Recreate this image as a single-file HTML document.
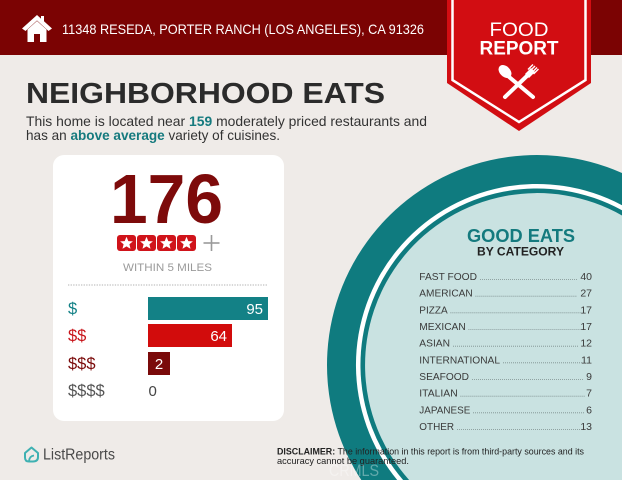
<!DOCTYPE html>
<html><head><meta charset="utf-8"><style>
html,body{margin:0;padding:0;background:#efebe8;width:622px;height:480px;overflow:hidden;}
svg{display:block;position:absolute;left:0;top:0;}
text{font-family:"Liberation Sans",Arial,sans-serif;}
</style></head><body>
<svg width="622" height="480" viewBox="0 0 622 480" xmlns="http://www.w3.org/2000/svg">
<rect x="0" y="0" width="622" height="480" fill="#efebe8"/>
<!-- header -->
<rect x="0" y="0" width="622" height="55" fill="#7b0303"/>
<!-- house icon -->
<path d="M37,15 L22,28.5 L25.5,31 L37,20.5 L48.5,31 L52,28.5 L44,21.2 L44,16 L41,16 L41,18.6 Z" fill="#fff"/>
<path d="M27.5,29.5 L37,21 L46.5,29.5 L46.5,42 L40,42 L40,34 L34,34 L34,42 L27.5,42 Z" fill="#fff"/>
<text x="62" y="34" font-size="14" fill="#fff" textLength="362" lengthAdjust="spacingAndGlyphs">11348 RESEDA, PORTER RANCH (LOS ANGELES), CA 91326</text>
<!-- ribbon -->
<polygon points="447,0 591,0 591,83 519,131 447,83" fill="#d20d12"/>
<polyline points="452.5,0 452.5,80 519,122 585.5,80 585.5,0" fill="none" stroke="#fff" stroke-width="2.5"/>
<text x="519" y="36" font-size="19" fill="#fff" text-anchor="middle" textLength="59" lengthAdjust="spacingAndGlyphs">FOOD</text>
<text x="519" y="54.5" font-size="19" font-weight="bold" fill="#fff" text-anchor="middle" textLength="79" lengthAdjust="spacingAndGlyphs">REPORT</text>
<!-- spoon & fork -->
<g fill="#fff" stroke="#fff">
<line x1="508" y1="76" x2="533" y2="97" stroke-width="4" stroke-linecap="round"/>
<ellipse cx="505" cy="71.5" rx="5.2" ry="7.5" transform="rotate(-45 505 71.5)" stroke="none"/>
<line x1="529" y1="74" x2="505" y2="97" stroke-width="4" stroke-linecap="round"/>
<path d="M525,74 L531,68 L535,72 L529,78 Z" stroke="none"/>
<line x1="528" y1="69.5" x2="533" y2="64.5" stroke-width="1.4"/>
<line x1="530" y1="71" x2="535" y2="66" stroke-width="1.4"/>
<line x1="532" y1="72.5" x2="537" y2="67.5" stroke-width="1.4"/>
<line x1="533.5" y1="74" x2="538.5" y2="69" stroke-width="1.4"/>
</g>
<!-- title -->
<text x="26" y="103" font-size="29" font-weight="bold" fill="#2b2b2b" textLength="359" lengthAdjust="spacingAndGlyphs">NEIGHBORHOOD EATS</text>
<text x="26" y="126" font-size="14" fill="#333" textLength="401" lengthAdjust="spacingAndGlyphs">This home is located near <tspan font-weight="bold" fill="#157a7e">159</tspan> moderately priced restaurants and</text>
<text x="26" y="140" font-size="14" fill="#333" textLength="254" lengthAdjust="spacingAndGlyphs">has an <tspan font-weight="bold" fill="#157a7e">above average</tspan> variety of cuisines.</text>
<!-- circle (clipped to frame geometrically) -->
<path d="M361.29,480 A210,210 0 0 1 622,172.97 L622,480 Z" fill="#0f7b7f"/>
<path d="M397.2,480 A181,181 0 0 1 622,205.2 L622,480 Z" fill="#ffffff"/>
<path d="M403.1,480 A176.5,176.5 0 0 1 622,210.3 L622,480 Z" fill="#0f7b7f"/>
<path d="M409.1,480 A172,172 0 0 1 622,215.5 L622,480 Z" fill="#c9e2e1"/>
<text x="467" y="242" font-size="18" font-weight="bold" fill="#147a7e" textLength="108" lengthAdjust="spacingAndGlyphs">GOOD EATS</text>
<text x="477" y="255.5" font-size="11.5" font-weight="bold" fill="#222" textLength="87" lengthAdjust="spacingAndGlyphs">BY CATEGORY</text>
<g font-size="10.5" fill="#3a3a3a">
<text x="419.3" y="280" textLength="57.7" lengthAdjust="spacingAndGlyphs">FAST FOOD</text>
<text x="592" y="280" text-anchor="end">40</text>
<text x="419.3" y="296.7" textLength="53.4" lengthAdjust="spacingAndGlyphs">AMERICAN</text>
<text x="592" y="296.7" text-anchor="end">27</text>
<text x="419.3" y="313.3" textLength="28.4" lengthAdjust="spacingAndGlyphs">PIZZA</text>
<text x="592" y="313.3" text-anchor="end">17</text>
<text x="419.3" y="330" textLength="46.4" lengthAdjust="spacingAndGlyphs">MEXICAN</text>
<text x="592" y="330" text-anchor="end">17</text>
<text x="419.3" y="346.7" textLength="30.7" lengthAdjust="spacingAndGlyphs">ASIAN</text>
<text x="592" y="346.7" text-anchor="end">12</text>
<text x="419.3" y="363.3" textLength="80.7" lengthAdjust="spacingAndGlyphs">INTERNATIONAL</text>
<text x="592" y="363.3" text-anchor="end">11</text>
<text x="419.3" y="380" textLength="49.7" lengthAdjust="spacingAndGlyphs">SEAFOOD</text>
<text x="592" y="380" text-anchor="end">9</text>
<text x="419.3" y="396.7" textLength="38.4" lengthAdjust="spacingAndGlyphs">ITALIAN</text>
<text x="592" y="396.7" text-anchor="end">7</text>
<text x="419.3" y="413.3" textLength="51" lengthAdjust="spacingAndGlyphs">JAPANESE</text>
<text x="592" y="413.3" text-anchor="end">6</text>
<text x="419.3" y="430" textLength="34.7" lengthAdjust="spacingAndGlyphs">OTHER</text>
<text x="592" y="430" text-anchor="end">13</text>
</g>
<g stroke="#6a7a7a" stroke-width="0.8" stroke-dasharray="0.8 1.2">
<line x1="480" y1="279.5" x2="577" y2="279.5"/>
<line x1="475.5" y1="296.2" x2="577" y2="296.2"/>
<line x1="450.5" y1="312.8" x2="581" y2="312.8"/>
<line x1="468.5" y1="329.5" x2="581" y2="329.5"/>
<line x1="453" y1="346.2" x2="578" y2="346.2"/>
<line x1="503" y1="362.8" x2="583" y2="362.8"/>
<line x1="472" y1="379.5" x2="584" y2="379.5"/>
<line x1="460.5" y1="396.2" x2="585" y2="396.2"/>
<line x1="473" y1="412.8" x2="585" y2="412.8"/>
<line x1="457" y1="429.5" x2="581" y2="429.5"/>
</g>
<!-- card -->
<rect x="53" y="155" width="231" height="266" rx="11" fill="#ffffff"/>
<text x="110" y="223" font-size="70" font-weight="bold" fill="#7d0a0a" textLength="113" lengthAdjust="spacingAndGlyphs">176</text>
<g fill="#d0131a">
<rect x="117" y="235" width="19" height="16" rx="3"/>
<rect x="137" y="235" width="19" height="16" rx="3"/>
<rect x="157" y="235" width="19" height="16" rx="3"/>
<rect x="177" y="235" width="19" height="16" rx="3"/>
</g>
<g fill="#fff">
<polygon points="126.5,236.8 128.3,241.1 132.9,241.4 129.4,244.3 130.5,248.8 126.5,246.4 122.5,248.8 123.6,244.3 120.1,241.4 124.7,241.1"/>
<polygon points="146.5,236.8 148.3,241.1 152.9,241.4 149.4,244.3 150.5,248.8 146.5,246.4 142.5,248.8 143.6,244.3 140.1,241.4 144.7,241.1"/>
<polygon points="166.5,236.8 168.3,241.1 172.9,241.4 169.4,244.3 170.5,248.8 166.5,246.4 162.5,248.8 163.6,244.3 160.1,241.4 164.7,241.1"/>
<polygon points="186.5,236.8 188.3,241.1 192.9,241.4 189.4,244.3 190.5,248.8 186.5,246.4 182.5,248.8 183.6,244.3 180.1,241.4 184.7,241.1"/>
</g>
<line x1="203.5" y1="243" x2="219.5" y2="243" stroke="#9a9a9a" stroke-width="1.6"/>
<line x1="211.5" y1="235" x2="211.5" y2="251" stroke="#9a9a9a" stroke-width="1.6"/>
<text x="123" y="271" font-size="11" fill="#9a9a9a" textLength="89" lengthAdjust="spacingAndGlyphs">WITHIN 5 MILES</text>
<line x1="68" y1="285" x2="268" y2="285" stroke="#b0b0b0" stroke-width="1" stroke-dasharray="1.3 1.3"/>
<!-- bars -->
<rect x="148" y="297" width="120" height="23" fill="#138186"/>
<rect x="148" y="324" width="84" height="23" fill="#d20c0c"/>
<rect x="148" y="352" width="22" height="23" fill="#7a0a0a"/>
<g font-size="16.5">
<text x="68" y="314" fill="#138186">$</text>
<text x="68" y="341" fill="#c8141a">$$</text>
<text x="68" y="369" fill="#7a0a0a">$$$</text>
<text x="68" y="396" fill="#555">$$$$</text>
</g>
<g font-size="15" fill="#fff">
<text x="263" y="314" text-anchor="end">95</text>
<text x="227" y="341" text-anchor="end">64</text>
<text x="159" y="369" text-anchor="middle">2</text>
<text x="148.5" y="396" fill="#444">0</text>
</g>
<!-- logo -->
<path d="M25,453 L31.5,447.5 L38,453 L38,457 Q38,461.5 33,461.5 L29,461.5 Q25,461.5 25,457.5 Z" fill="none" stroke="#3fb1b2" stroke-width="2" stroke-linejoin="round"/>
<path d="M29,461 Q29.5,456 34,455.5" fill="none" stroke="#3fb1b2" stroke-width="1.8"/>
<text x="43" y="459.5" font-size="15.5" fill="#4a4a4a" textLength="72" lengthAdjust="spacingAndGlyphs">ListReports</text>
<!-- disclaimer -->
<text x="277" y="454.3" font-size="9.5" fill="#222" textLength="307" lengthAdjust="spacingAndGlyphs"><tspan font-weight="bold">DISCLAIMER:</tspan> The information in this report is from third-party sources and its</text>
<text x="277" y="464" font-size="9.5" fill="#222" textLength="132" lengthAdjust="spacingAndGlyphs">accuracy cannot be guaranteed.</text>
<text x="329" y="476" font-size="17" fill="#ffffff" fill-opacity="0.35" textLength="50" lengthAdjust="spacingAndGlyphs">CRMLS</text>
</svg>
</body></html>
